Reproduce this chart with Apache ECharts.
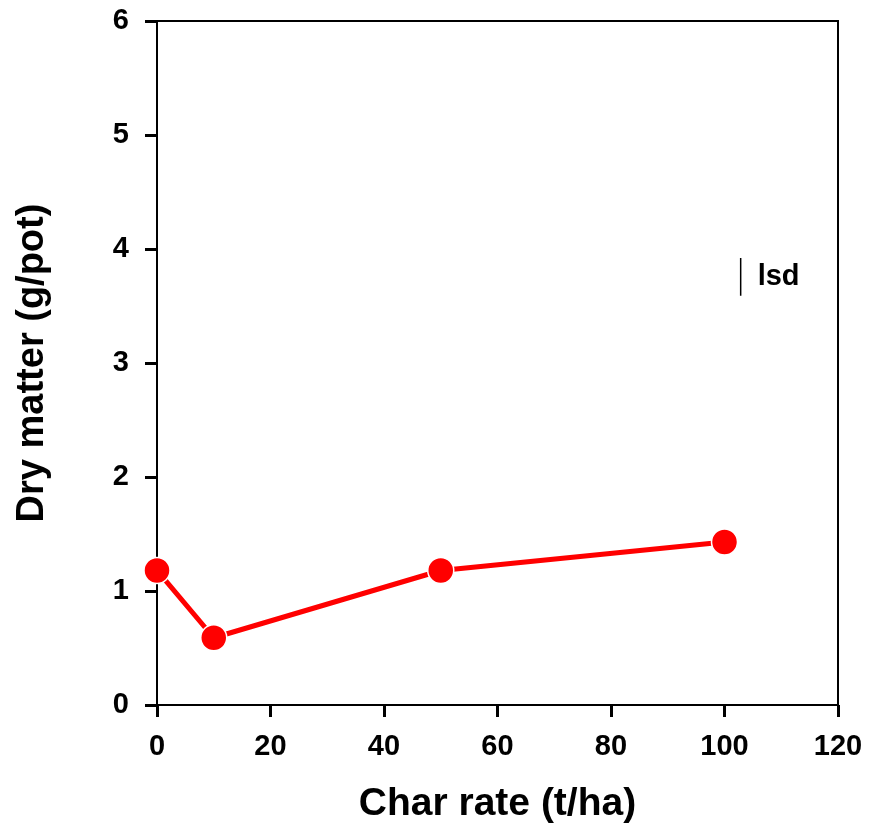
<!DOCTYPE html>
<html>
<head>
<meta charset="utf-8">
<script src="https://cdn.jsdelivr.net/npm/echarts@6/dist/echarts.min.js"></script>
<style>html,body{margin:0;padding:0;background:#fff;}#c{width:869px;height:825px;}</style>
</head>
<body>
<div id="c"></div>
<script>
const charRate = [0, 10, 50, 100];
const dryMatter = [1.18, 0.59, 1.18, 1.43];
const lsdX = 102.85;
const lsdLow = 3.59;
const lsdHigh = 3.92;
const xTicks = [0, 20, 40, 60, 80, 100, 120];
const yTicks = [0, 1, 2, 3, 4, 5, 6];

const chart = echarts.init(document.getElementById('c'));
const font = 'Arial, "Liberation Sans", Helvetica, sans-serif';
chart.setOption({
  animation: false,
  backgroundColor: '#fff',
  grid: { left: 157, right: 31, top: 21, bottom: 120, outerBoundsMode: 'none', containLabel: false, show: true, borderColor: '#000', borderWidth: 2, backgroundColor: 'transparent' },
  xAxis: {
    type: 'value', min: xTicks[0], max: xTicks[xTicks.length - 1], interval: 20,
    name: 'Char rate (t/ha)', nameLocation: 'middle', nameGap: 80,
    nameTextStyle: { fontFamily: font, fontWeight: 'bold', fontSize: 39, color: '#000' },
    axisLine: { show: true, lineStyle: { color: '#000', width: 2 } },
    axisTick: { show: true, inside: false, length: 12, lineStyle: { color: '#000', width: 3 } },
    axisLabel: { fontFamily: font, fontWeight: 'bold', fontSize: 29, color: '#000', margin: 27 },
    splitLine: { show: false }
  },
  yAxis: {
    type: 'value', min: yTicks[0], max: yTicks[yTicks.length - 1], interval: 1,
    name: 'Dry matter (g/pot)', nameLocation: 'middle', nameGap: 105,
    nameTextStyle: { fontFamily: font, fontWeight: 'bold', fontSize: 38, color: '#000' },
    axisLine: { show: true, lineStyle: { color: '#000', width: 2 } },
    axisTick: { show: true, inside: false, length: 12, lineStyle: { color: '#000', width: 3 } },
    axisLabel: { fontFamily: font, fontWeight: 'bold', fontSize: 29, color: '#000', margin: 28 },
    splitLine: { show: false }
  },
  series: [
    {
      type: 'line',
      data: charRate.map((x, i) => [x, dryMatter[i]]),
      symbol: 'circle', symbolSize: 26,
      lineStyle: { color: '#ff0000', width: 5 },
      itemStyle: { color: '#ff0000', borderColor: '#fff', borderWidth: 1.5 },
      z: 3
    },
    {
      type: 'line',
      data: [[lsdX, lsdLow], [lsdX, lsdHigh]],
      symbol: 'none',
      lineStyle: { color: '#000', width: 1.5 },
      z: 2
    },
    {
      type: 'scatter',
      data: [[lsdX, (lsdLow + lsdHigh) / 2]],
      symbolSize: 0,
      itemStyle: { color: '#000', opacity: 1 },
      label: { show: true, position: 'right', distance: 17, formatter: 'lsd', fontFamily: font, fontWeight: 'bold', fontSize: 29, color: '#000', opacity: 1 },
      z: 2
    }
  ]
});
</script>
</body>
</html>
